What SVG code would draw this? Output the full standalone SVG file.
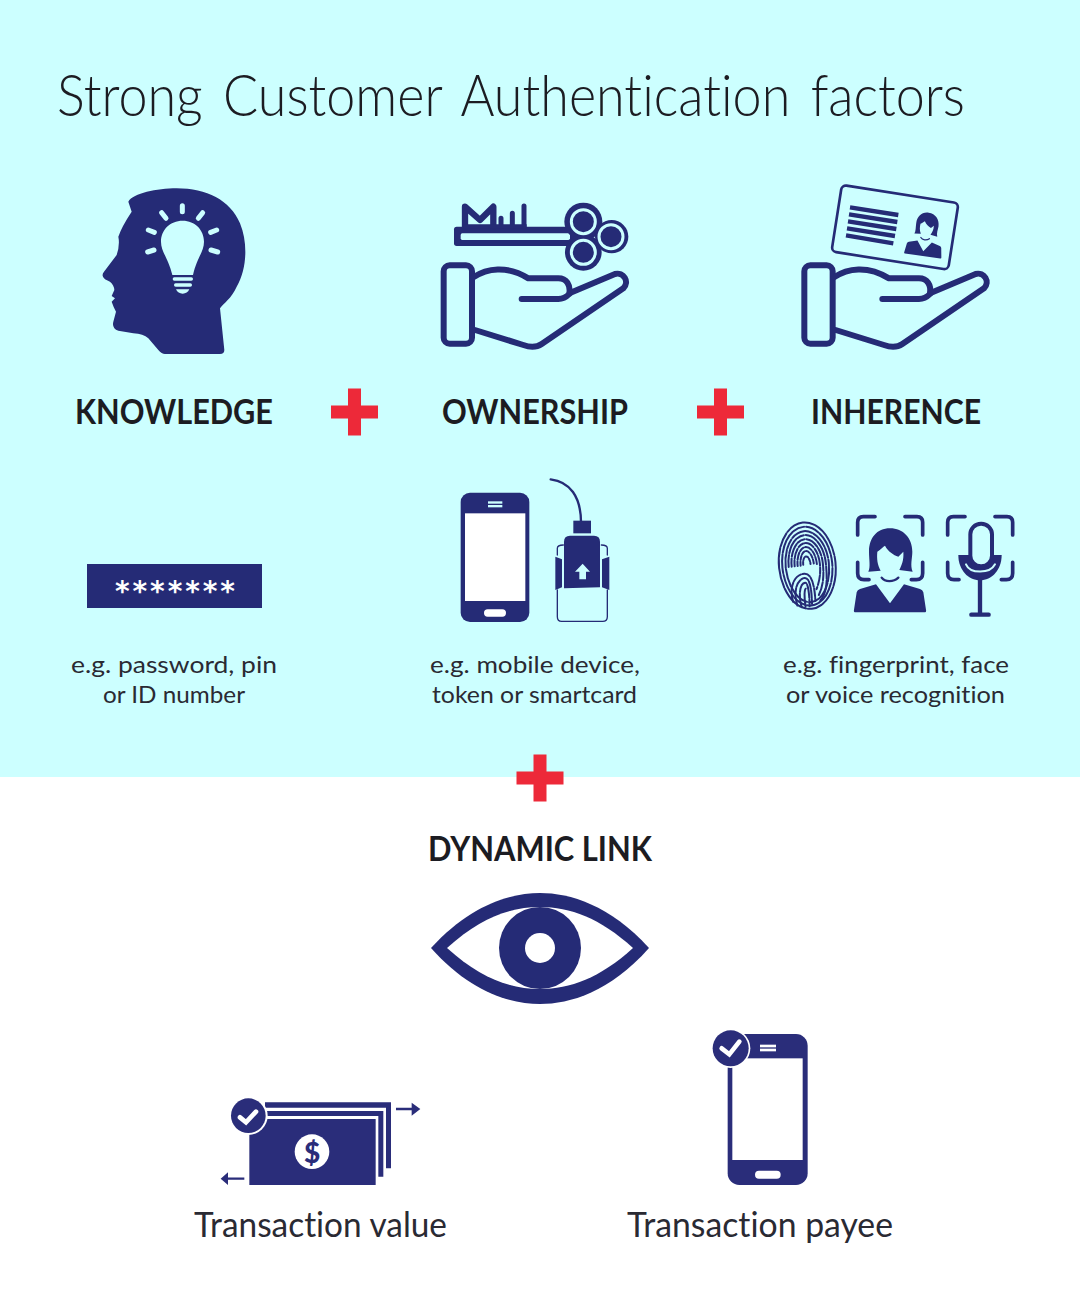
<svg xmlns="http://www.w3.org/2000/svg" width="1080" height="1299" viewBox="0 0 1080 1299">
<style>
.n{fill:#252b76}
.m{fill:#2a2d7a}
.l{fill:#ccffff}
.w{fill:#fff}
.red{fill:#ed2939}
.sn{fill:none;stroke:#252b76;stroke-linecap:round;stroke-linejoin:round}
.sl{fill:none;stroke:#ccffff;stroke-linecap:round;stroke-linejoin:round}
.sm{fill:none;stroke:#2a2d7a;stroke-linejoin:round}
.sw{fill:none;stroke:#fff;stroke-linecap:round;stroke-linejoin:miter}
text{font-family:"Lato","Liberation Sans",sans-serif;fill:#1c1c22;font-variant-ligatures:none}
.t{font-weight:300;font-size:58px;word-spacing:7px}
.h{font-weight:700;font-size:35px}
.d{font-weight:400;font-size:23px;fill:#2a2a33}
.c{font-weight:400;font-size:34px;fill:#2a2a33}
</style>
<defs>
<g id="hand">
<rect x="41" y="226" width="85" height="235" rx="18" class="sn" stroke-width="18"/>
<path class="sn" stroke-width="18" d="M130,262C170,235 230,225 295,265L385,265C410,265 422,285 418,310L555,252C580,245 600,275 580,295L335,462C320,472 300,472 280,465L135,420"/>
<path class="sn" stroke-width="18" d="M275,327L385,327C400,327 410,320 418,312"/>
</g>
<g id="person">
<path class="n" d="M322,140C330,135 340,125 345,122C355,140 370,150 385,155L400,140C402,165 395,180 388,195L428,200C420,180 427,160 427,140C427,100 400,70 360,70C320,70 297,100 297,140C297,165 302,185 295,200L332,197C322,180 320,160 322,140Z"/>
<path class="sn" stroke-width="7" d="M335,218C345,232 370,232 385,218"/>
<path class="n" d="M257,322Q250,322 252,314L260,262Q262,254 270,252L318,238L360,295L402,238L450,252Q458,254 460,262L468,314Q470,322 463,322Z"/>
</g>
<path id="frame" class="sn" stroke-width="11" d="M263,90L263,52Q263,35 280,35L315,35M405,35L441,35Q458,35 458,52L458,90M263,172L263,205Q263,224 282,224L297,224M458,172L458,205Q458,224 439,224L424,224"/>
<path id="plus" class="red" d="M-6.500,-23.500H6.500V-6.500H23.500V6.500H6.500V23.500H-6.500V6.500H-23.500V-6.500H-6.500Z"/>
</defs>
<rect id="background" width="1080" height="777" fill="#ccffff"/>
<g id="title"><text class="t" x="57" y="116" textLength="908" lengthAdjust="spacingAndGlyphs">Strong Customer Authentication factors</text></g>

<g id="knowledge">
<g transform="translate(90,170) scale(.33333)">
<path class="n" d="M115,95C130,70 200,55 260,55C350,55 420,90 450,160C475,220 470,300 440,350C425,385 400,400 390,415L403,540Q403,552 390,552L225,552Q215,552 205,540L175,505Q160,492 130,490L85,482Q65,475 70,455L78,425Q70,410 65,395L75,385L65,378L73,360Q72,345 60,335L45,328Q32,318 42,305L80,255Q90,225 85,200Q95,170 125,125Z"/>
<path class="l" d="M278,152C240,152 213,180 213,215C213,245 235,265 247,315L309,315C320,265 342,245 342,215C342,180 315,152 278,152Z"/>
<rect class="l" x="248" y="322" width="61" height="10" rx="5"/><rect class="l" x="252" y="340" width="54" height="10" rx="5"/>
<path class="l" d="M258,358H298Q292,371 278,371Q264,371 258,358Z"/>
<path class="sl" stroke-width="15" d="M277,107V125M215,128L228,145M338,128L325,145M175,180L193,187M380,180L362,187M173,246L192,240M383,246L363,240"/>
</g>
<text class="h" x="75" y="424" textLength="198" lengthAdjust="spacingAndGlyphs">KNOWLEDGE</text>
<rect class="n" x="87" y="564" width="175" height="44"/>
<text x="115" y="600.500" style="font-family:'DejaVu Sans',sans-serif;font-weight:700;font-size:28px;letter-spacing:2.900px;fill:#fff">*******</text>
<text class="d" x="71" y="673" textLength="206" lengthAdjust="spacingAndGlyphs">e.g. password, pin</text>
<text class="d" x="103" y="703" textLength="142" lengthAdjust="spacingAndGlyphs">or ID number</text>
</g>
<use id="plus-1" href="#plus" x="354.500" y="412"/>

<g id="ownership">
<g transform="translate(430,190) scale(.33333)">
<use href="#hand"/>
<rect class="n" x="72" y="110" width="360" height="58" rx="8"/>
<rect class="l" x="92" y="130" width="328" height="20" rx="5"/>
<path class="sn" stroke-width="19" d="M105,110V50L150,90L190,50V110"/>
<path class="sn" stroke-width="15" d="M213,110V85M247,110V70M282,110V48"/>
<path class="n" d="M100,103H290V115H100Z"/>
<g class="n"><circle cx="460" cy="95" r="57"/><circle cx="545" cy="140" r="50"/><circle cx="460" cy="187" r="55"/></g>
<g class="sl" stroke-width="9"><circle cx="460" cy="95" r="36"/><circle cx="543" cy="140" r="36"/><circle cx="460" cy="187" r="36"/></g>
</g>
<text class="h" x="442" y="424" textLength="186" lengthAdjust="spacingAndGlyphs">OWNERSHIP</text>
<g transform="translate(450,470) scale(.33333)">
<rect class="n" x="32" y="68" width="206" height="388" rx="28"/>
<rect class="w" x="45" y="130" width="181" height="263"/>
<rect class="l" x="114" y="94" width="43" height="7"/><rect class="l" x="114" y="105" width="43" height="7"/>
<rect class="w" x="102" y="418" width="66" height="22" rx="11"/>
<path class="sn" stroke-width="7" d="M302,28C360,35 392,80 393,155"/>
<rect class="n" x="370" y="152" width="53" height="38"/>
<path class="n" d="M342,355V215Q342,197 360,197H432Q450,197 450,215V352Z"/>
<path class="n" d="M316,260L336,268V352L316,360ZM478,260L456,268V352L478,360Z"/>
<path class="l" d="M398,281L420,305H408V328H388V305H375Z"/>
<path class="sn" stroke-width="4" d="M322,360V440Q322,454 335,454H458Q472,454 472,440V360M322,255V235Q322,225 340,225M472,255V235Q472,225 454,225"/>
</g>
<text class="d" x="430" y="673" textLength="210" lengthAdjust="spacingAndGlyphs">e.g. mobile device,</text>
<text class="d" x="432" y="703" textLength="205" lengthAdjust="spacingAndGlyphs">token or smartcard</text>
</g>
<use id="plus-2" href="#plus" x="720.500" y="412"/>

<g id="inherence">
<g transform="translate(790,175) scale(.33333)">
<g transform="translate(2,0)"><use href="#hand" y="45"/></g>
<rect x="138" y="56" width="354" height="202" rx="14" transform="rotate(8.900 315 157)" class="sn" stroke-width="8"/>
<path class="sn" style="stroke-linecap:butt" stroke-width="13" d="M180,97L325,120M177,118L322,141M174,139L319,162M171,160L315,183M168,181L310,205"/>
<g transform="translate(407,178) rotate(8) scale(.52) translate(-360,-196)"><use href="#person"/></g>
</g>
<text class="h" x="811" y="424" textLength="170" lengthAdjust="spacingAndGlyphs">INHERENCE</text>
<g transform="translate(770,505) scale(.33333)">
<g class="sn" stroke-width="6" transform="rotate(-6 112 182)">
<path stroke-dasharray="60 4 44 5 90 4" d="M27,180A85,128 0 0 1 197,180A85,132 0 0 1 27,180"/>
<path stroke-dasharray="40 5 70 4 34 6" d="M37,180A75,115 0 0 1 187,180A75,122 0 0 1 37,180"/>
<path stroke-dasharray="52 4 30 6 66 5" d="M47,180A65,102 0 0 1 177,180A65,112 0 0 1 47,180"/>
<path stroke-dasharray="36 5 48 4 22 6" d="M56,180A56,90 0 0 1 168,180C168,240 160,270 140,290"/>
<path stroke-dasharray="24 6 40 5" d="M65,180A47,78 0 0 1 159,180C159,220 152,250 136,275"/>
<path stroke-dasharray="18 5 30 6" d="M74,180A38,66 0 0 1 150,180C150,205 145,230 132,255"/>
<path stroke-dasharray="14 5 22 5" d="M83,180A29,54 0 0 1 141,180"/>
<path stroke-dasharray="12 5" d="M92,180A20,42 0 0 1 132,180"/>
<path stroke-dasharray="9 4" d="M100,178A11,24 0 0 1 122,178"/>
<path stroke-dasharray="30 5 24 4" d="M58,285C50,240 70,205 100,205C120,205 128,235 125,290"/>
<path stroke-dasharray="24 4" d="M70,298C60,250 80,218 100,218C114,218 118,245 114,298"/>
<path stroke-dasharray="40 5" d="M82,304C74,260 88,232 100,232C108,232 110,260 106,304"/>
<path d="M94,304C92,275 96,250 100,250"/>
</g>
<use href="#frame"/><use href="#person"/>
<use href="#frame" x="270"/>
<path class="n" d="M565,150H695C695,195 665,226 630,226C595,226 565,195 565,150Z"/>
<path class="sl" stroke-width="6" d="M588,178C600,207 660,207 675,178"/>
<rect x="601" y="56" width="65" height="128" rx="32" class="l" stroke="#252b76" stroke-width="12"/>
<path class="sn" stroke-width="13" d="M630,226V328M604,329H656"/>
</g>
<text class="d" x="783" y="673" textLength="226" lengthAdjust="spacingAndGlyphs">e.g. fingerprint, face</text>
<text class="d" x="786" y="703" textLength="219" lengthAdjust="spacingAndGlyphs">or voice recognition</text>
</g>
<use id="plus-3" href="#plus" x="540" y="778"/>

<g id="dynamic-link">
<text class="h" x="428" y="861" textLength="224" lengthAdjust="spacingAndGlyphs">DYNAMIC LINK</text>
<path class="n" d="M431,948C470,905 510,893 540,893C570,893 610,905 649,948C610,992 570,1004 540,1004C510,1004 470,992 431,948Z"/>
<path class="w" d="M447,948C480,918 510,907 540,907C570,907 600,918 633,948C600,978 570,989 540,989C510,989 480,978 447,948Z"/>
<circle class="n" cx="540" cy="948" r="41"/>
<circle class="w" cx="540" cy="948" r="15"/>
</g>

<g id="transaction-value">
<g transform="translate(210,1085) scale(.33333)">
<path class="m" d="M165,52H543V250H528V68H165Z"/>
<path class="m" d="M165,78H520V275H505V93H165Z"/>
<rect class="m" x="118" y="102" width="379" height="198"/>
<circle class="w" cx="115" cy="92" r="58"/>
<circle class="m" cx="115" cy="92" r="52"/>
<path class="sw" stroke-width="14" d="M90,97L108,112L138,80"/>
<circle class="w" cx="306" cy="200" r="52"/>
<path class="sm" stroke-width="7" d="M558,72H610M103,281H50"/>
<path class="m" d="M605,53L631,72L605,92ZM54,262L32,281L54,300Z"/>
</g>
<text x="312" y="1163" text-anchor="middle" style="font-family:'Lato',sans-serif;font-weight:900;font-size:28px;fill:#2a2d7a">$</text>
<text class="c" x="194" y="1237" textLength="253" lengthAdjust="spacingAndGlyphs">Transaction value</text>
</g>

<g id="transaction-payee">
<g transform="translate(700,1020) scale(.33333)">
<rect class="m" x="83" y="42" width="240" height="453" rx="35"/>
<rect class="w" x="97" y="115" width="211" height="305"/>
<rect class="w" x="180" y="74" width="48" height="8"/><rect class="w" x="180" y="86" width="48" height="8"/>
<rect class="w" x="165" y="452" width="77" height="24" rx="12"/>
<circle class="w" cx="92" cy="85" r="59"/>
<circle class="m" cx="92" cy="85" r="54"/>
<path class="sw" stroke-width="14" d="M65,85L88,103L118,65"/>
</g>
<text class="c" x="627" y="1237" textLength="266" lengthAdjust="spacingAndGlyphs">Transaction payee</text>
</g>
</svg>
